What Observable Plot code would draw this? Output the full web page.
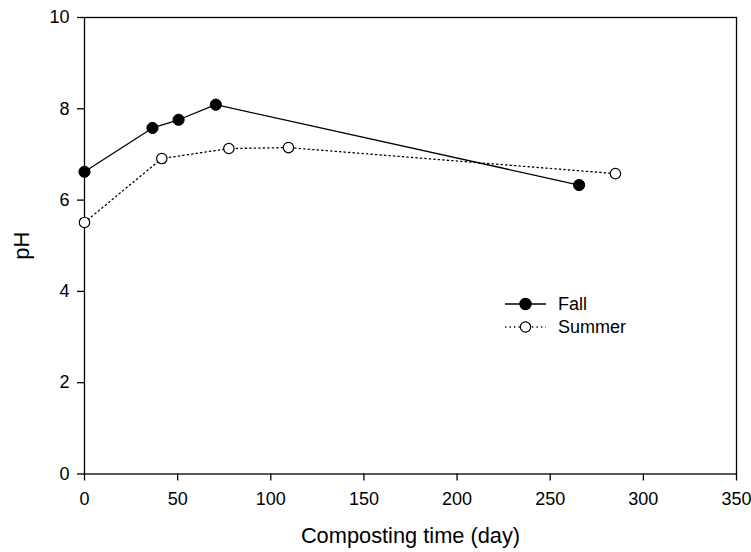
<!DOCTYPE html>
<html>
<head>
<meta charset="utf-8">
<script src="https://cdn.jsdelivr.net/npm/d3@7"></script>
<script src="https://cdn.jsdelivr.net/npm/@observablehq/plot@0.6"></script>
<style>
  html, body { margin: 0; padding: 0; background: #fff; }
  #wrap { position: relative; width: 751px; height: 552px; font-family: "Liberation Sans", Arial, sans-serif; }
  #legend { position: absolute; left: 503px; top: 292px; }
</style>
</head>
<body>
<div id="wrap"><div id="legend"></div></div>
<script>
// Data
const fallDays = [0, 36.5, 50.5, 70.5, 265.5];
const fallPH = [6.62, 7.58, 7.76, 8.09, 6.33];
const summerDays = [0, 41.5, 77.5, 109.5, 285];
const summerPH = [5.51, 6.91, 7.13, 7.15, 6.58];
const xTicks = [0, 50, 100, 150, 200, 250, 300, 350];
const yTicks = [0, 2, 4, 6, 8, 10];
const seriesNames = ["Fall", "Summer"];
const xTitle = "Composting time (day)";
const yTitle = "pH";

const fall = fallDays.map((d, i) => ({day: d, ph: fallPH[i]}));
const summer = summerDays.map((d, i) => ({day: d, ph: summerPH[i]}));

const font = '"Liberation Sans", Arial, sans-serif';

const chart = Plot.plot({
  width: 751,
  height: 552,
  marginLeft: 84,
  marginRight: 15,
  marginTop: 17,
  marginBottom: 78.5,
  style: {fontFamily: font, fontSize: "18px", color: "#000", background: "#fff"},
  x: {domain: [0, 350], ticks: xTicks, tickSize: 7, tickPadding: 11, label: null, tickFormat: d => String(d)},
  y: {domain: [0, 10], ticks: yTicks, tickSize: 7, tickPadding: 8, label: null, tickFormat: d => String(d)},
  marks: [
    Plot.frame({stroke: "#000", strokeWidth: 1.3}),
    Plot.line(summer, {x: "day", y: "ph", stroke: "#000", strokeWidth: 1.3, strokeDasharray: "1.3,3.2"}),
    Plot.line(fall, {x: "day", y: "ph", stroke: "#000", strokeWidth: 1.3}),
    Plot.dot(summer, {x: "day", y: "ph", r: 5.2, fill: "#fff", stroke: "#000", strokeWidth: 1.2}),
    Plot.dot(fall, {x: "day", y: "ph", r: 5.6, fill: "#000", stroke: "#000", strokeWidth: 1}),
    Plot.text([xTitle], {frameAnchor: "bottom", dy: 62, lineAnchor: "middle", textAnchor: "middle", fontSize: 21.8, fill: "#000"}),
    Plot.text([yTitle], {frameAnchor: "left", dx: -62, rotate: -90, lineAnchor: "middle", textAnchor: "middle", fontSize: 21.8, fill: "#000"})
  ]
});
const svg = d3.select(chart);
svg.selectAll("[aria-label='x-axis tick'], [aria-label='y-axis tick']").attr("stroke-width", 1.3);
svg.selectAll("[aria-label='x-axis tick label'], [aria-label='y-axis tick label']").attr("font-size", 18).style("font-size", "18px");
document.getElementById("wrap").prepend(chart);
chart.style.position = "absolute";
chart.style.left = "0";
chart.style.top = "0";

// Legend
const leg = d3.select("#legend").append("svg").attr("width", 160).attr("height", 50)
  .style("font-family", font).style("font-size", "18px");
const styles = [
  {dash: null, fill: "#000", r: 5.6},
  {dash: "1.3,3.2", fill: "#fff", r: 5.2}
];
seriesNames.forEach((name, i) => {
  const y = 12 + i * 23;
  const g = leg.append("g");
  g.append("line").attr("x1", 2).attr("x2", 43).attr("y1", y).attr("y2", y)
    .attr("stroke", "#000").attr("stroke-width", 1.3).attr("stroke-dasharray", styles[i].dash);
  g.append("circle").attr("cx", 22.5).attr("cy", y).attr("r", styles[i].r)
    .attr("fill", styles[i].fill).attr("stroke", "#000").attr("stroke-width", 1.2);
  g.append("text").attr("x", 55).attr("y", y).attr("dy", "0.35em").text(name);
});
</script>
</body>
</html>
